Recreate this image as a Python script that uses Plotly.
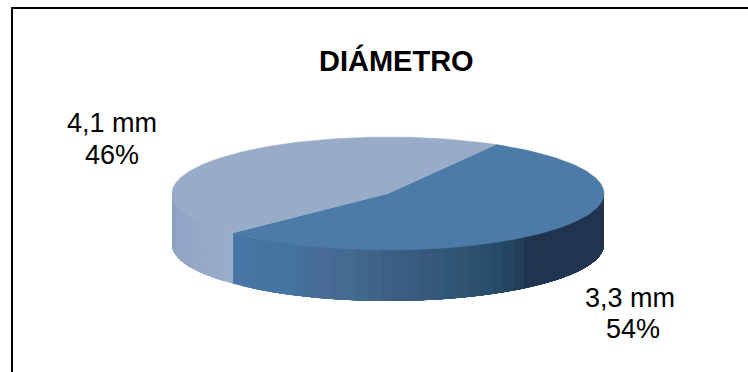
import numpy as np
import plotly.graph_objects as go

# Data
title_text = "DIÁMETRO"
categories = ["3,3 mm", "4,1 mm"]
shares = [54.4, 45.6]
percent_labels = ["54%", "46%"]

# Styles
top_colors = ["#4B7BA6", "#98ABC8"]
wall_stops_dark = [(0.0, "#4677A6"), (0.134, "#44749F"), (0.2, "#486A94"), (0.25, "#436B8E"),
                   (0.335, "#3E5E84"), (0.458, "#305675"), (0.543, "#284C69"), (0.6, "#223F59"),
                   (0.625, "#21344F"), (1.0, "#20344F")]
wall_stops_light = [(0.0, "#8C9EC0"), (0.35, "#90A6C5"), (1.0, "#9AADC9")]

CX, CY, RX, RY, DEPTH = 388, 193.5, 216, 56.5, 51
START_DEG = 30


def rim(theta_deg, drop=0.0):
    t = np.radians(theta_deg)
    return CX + RX * np.sin(t), CY - RY * np.cos(t) + drop


def hex_rgb(h):
    return np.array([int(h[i:i + 2], 16) for i in (1, 3, 5)], float)


def mix(stops, f):
    for (a, ca), (b, cb) in zip(stops, stops[1:]):
        if f <= b:
            k = (f - a) / (b - a)
            c = hex_rgb(ca) * (1 - k) + hex_rgb(cb) * k
            return "rgb(%d,%d,%d)" % tuple(c)
    return stops[-1][1]


def poly(fig, xs, ys, color, width=0.0):
    fig.add_trace(go.Scatter(x=list(xs), y=list(ys), mode="lines", fill="toself",
                             fillcolor=color, line=dict(color=color, width=width),
                             hoverinfo="skip", showlegend=False))


def wall(fig, lo, hi, color):
    th = np.linspace(lo, hi, 80)
    x_t, y_t = rim(th)
    x_b, y_b = rim(th, DEPTH)
    poly(fig, np.r_[x_t, x_b[::-1]], np.r_[y_t, y_b[::-1]], color)


fig = go.Figure()

total = sum(shares)
a0 = START_DEG
a1 = a0 + 360 * shares[0] / total
a2 = a0 + 360

# Front wall: overlapping strips, so that no seams show between bands.
n_dark = 40
n_light = 12
for i in range(n_light):
    lo = a1 + (270 - a1) * i / n_light
    wall(fig, lo, 270, mix(wall_stops_light, 1 - i / n_light))
for i in range(n_dark):
    hi = a1 - (a1 - 90) * i / n_dark
    wall(fig, 90, hi, mix(wall_stops_dark, i / n_dark))

# Top faces
for (s, e, col) in [(a0, a1, top_colors[0]), (a1, a2, top_colors[1])]:
    th = np.linspace(s, e, 180)
    x, y = rim(th)
    poly(fig, np.r_[CX, x, CX], np.r_[CY, y, CY], col, 0.5)

label_style = dict(family="Liberation Sans, Arial, sans-serif", size=27, color="#000000")
annotations = [
    dict(x=112, y=123, text=categories[1]),
    dict(x=112, y=155, text=percent_labels[1]),
    dict(x=630, y=298, text=categories[0]),
    dict(x=633, y=329, text=percent_labels[0]),
]
for a in annotations:
    a.update(xref="x", yref="y", showarrow=False, align="center", font=label_style,
             xanchor="center", yanchor="middle")
annotations.append(dict(x=396.5, y=60, xref="x", yref="y", showarrow=False, text=f"<b>{title_text}</b>",
                        font=dict(family="Liberation Sans, Arial, sans-serif", size=29, color="#000000"),
                        xanchor="center", yanchor="middle"))

fig.update_layout(
    width=748, height=372, margin=dict(l=0, r=0, t=0, b=0),
    paper_bgcolor="#FFFFFF", plot_bgcolor="#FFFFFF",
    xaxis=dict(range=[0, 748], visible=False, fixedrange=True),
    yaxis=dict(range=[372, 0], visible=False, fixedrange=True),
    annotations=annotations,
    shapes=[
        dict(type="line", xref="x", yref="y", x0=11, x1=748, y0=8, y1=8, line=dict(color="#000000", width=2)),
        dict(type="line", xref="x", yref="y", x0=12, x1=12, y0=8, y1=372, line=dict(color="#000000", width=2)),
    ],
)
fig.write_html("out.html", config={"displayModeBar": False},
               post_script="document.body.style.margin='0';document.body.style.overflow='hidden';window.dispatchEvent(new Event('resize'));")
